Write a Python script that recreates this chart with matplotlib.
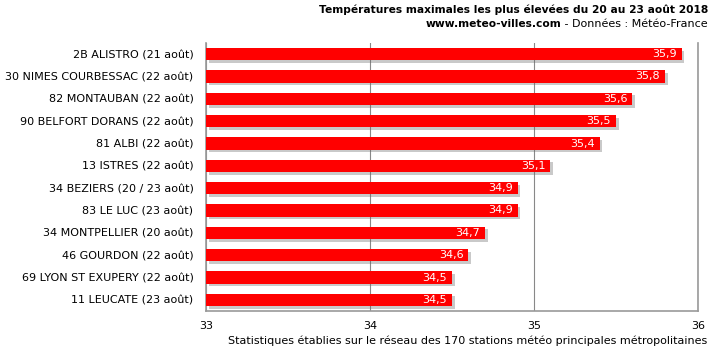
import numpy as np
import matplotlib.pyplot as plt
import matplotlib.patheffects as pe

stations = ['2B ALISTRO (21 août)', '30 NIMES COURBESSAC (22 août)', '82 MONTAUBAN (22 août)',
            '90 BELFORT DORANS (22 août)', '81 ALBI (22 août)', '13 ISTRES (22 août)',
            '34 BEZIERS (20 / 23 août)', '83 LE LUC (23 août)', '34 MONTPELLIER (20 août)',
            '46 GOURDON (22 août)', '69 LYON ST EXUPERY (22 août)', '11 LEUCATE (23 août)']
temps = [35.9, 35.8, 35.6, 35.5, 35.4, 35.1, 34.9, 34.9, 34.7, 34.6, 34.5, 34.5]
xticks = [33, 34, 35, 36]

fig = plt.figure(figsize=(7.15, 3.54), dpi=100)
ax = fig.add_axes([206/715, 1 - 311/354, (698 - 206)/715, (311 - 43)/354])

y = np.arange(len(stations))
base = xticks[0]
bars = ax.barh(y, np.array(temps) - base, left=base, height=0.55, color='#ff0000', zorder=3,
               path_effects=[pe.SimplePatchShadow(offset=(2, -2), shadow_rgbFace='#666666', alpha=0.35),
                             pe.Normal()])
for yi, t in zip(y, temps):
    ax.text(t - 0.03, yi, ('%.1f' % t).replace('.', ','), color='white', fontsize=8,
            ha='right', va='center', zorder=4)

ax.set_xlim(33, 36)
ax.set_ylim(len(stations) - 0.5, -0.5)
ax.set_xticks(xticks)
ax.set_xticklabels([str(v) for v in xticks], fontsize=8)
ax.set_yticks(y)
ax.set_yticklabels(stations, fontsize=8)
ax.tick_params(length=0, pad=9)
ax.tick_params(axis='x', pad=7)
ax.grid(axis='x', color='#888888', linewidth=0.8, zorder=0)
for s in ['left', 'bottom', 'right']:
    ax.spines[s].set_color('#999999')
    ax.spines[s].set_linewidth(1.2)
ax.spines['top'].set_visible(False)

fig.text(708/715, 1 - 10/354, 'Températures maximales les plus élevées du 20 au 23 août 2018',
         ha='right', va='center', fontsize=7.7, fontweight='bold')
src = fig.text(708/715, 1 - 24/354, ' - Données : Météo-France', ha='right', va='center', fontsize=8)
r = fig.canvas.get_renderer()
x0 = src.get_window_extent(r).x0 / fig.bbox.width
fig.text(x0, 1 - 24/354, 'www.meteo-villes.com', ha='right', va='center', fontsize=7.7,
         fontweight='bold')
fig.text(707/715, 1 - 341/354, 'Statistiques établies sur le réseau des 170 stations météo principales métropolitaines',
         ha='right', va='center', fontsize=8)

fig.savefig('out.png', dpi=100)
